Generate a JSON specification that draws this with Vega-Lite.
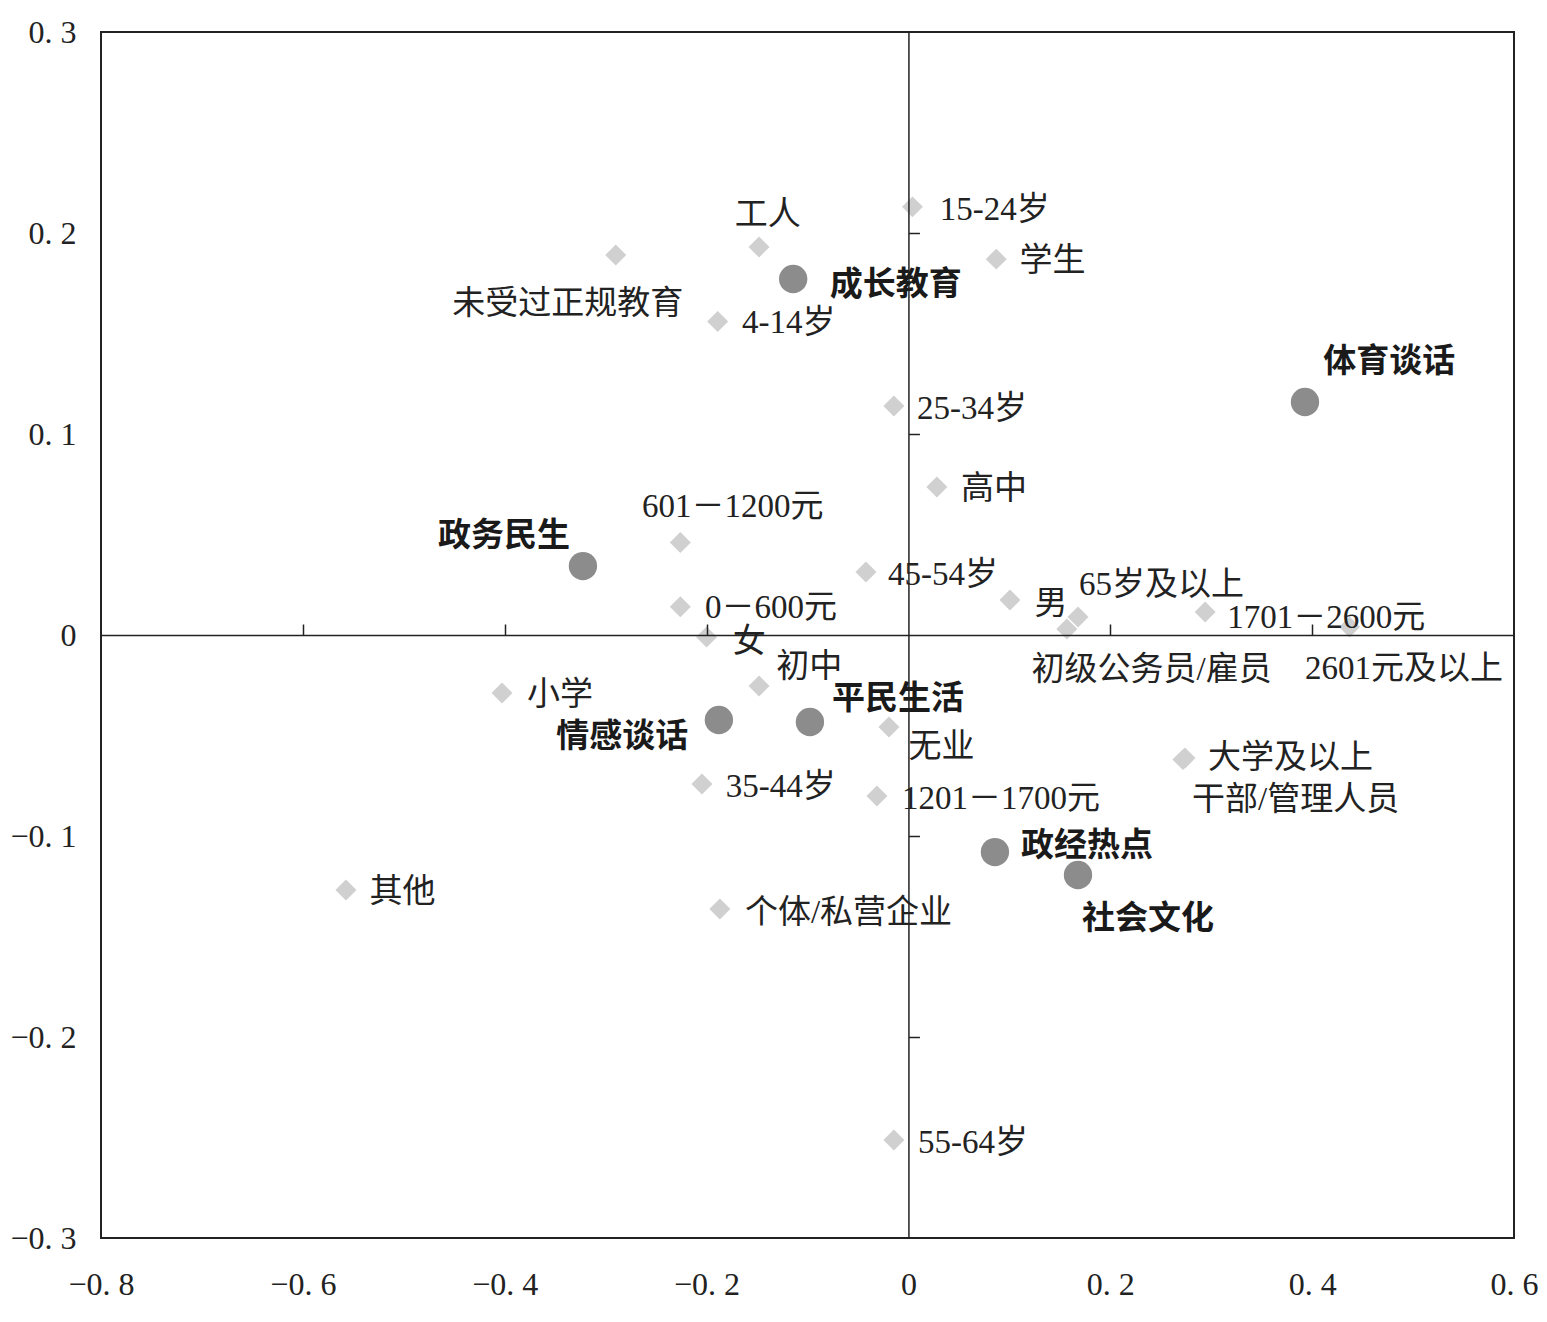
{
  "$schema": "https://vega.github.io/schema/vega-lite/v6.json",
  "width": 1413,
  "height": 1206,
  "autosize": {"type": "none"},
  "padding": {"left": 101, "top": 32, "right": 33, "bottom": 84},
  "background": "white",
  "config": {"view": {"stroke": "#222", "strokeWidth": 2}},
  "datasets": {
    "cats": [
      {"label": "15-24岁", "x": 0.004, "y": 0.213, "lx": 0.031, "ly": 0.2114},
      {"label": "工人", "x": -0.148, "y": 0.193, "lx": -0.172, "ly": 0.2092},
      {"label": "未受过正规教育", "x": -0.29, "y": 0.189, "lx": -0.452, "ly": 0.1647},
      {"label": "学生", "x": 0.087, "y": 0.187, "lx": 0.11, "ly": 0.186},
      {"label": "4-14岁", "x": -0.189, "y": 0.156, "lx": -0.165, "ly": 0.155},
      {"label": "25-34岁", "x": -0.0144, "y": 0.1139, "lx": 0.0084, "ly": 0.1124},
      {"label": "高中", "x": 0.0282, "y": 0.0736, "lx": 0.052, "ly": 0.0726},
      {"label": "601－1200元", "x": -0.226, "y": 0.046, "lx": -0.264, "ly": 0.0637},
      {"label": "45-54岁", "x": -0.0421, "y": 0.0313, "lx": -0.0203, "ly": 0.0299},
      {"label": "0－600元", "x": -0.226, "y": 0.014, "lx": -0.2016, "ly": 0.0134},
      {"label": "男", "x": 0.1006, "y": 0.0174, "lx": 0.125, "ly": 0.0154},
      {"label": "65岁及以上", "x": 0.168, "y": 0.009, "lx": 0.169, "ly": 0.025},
      {"label": "初级公务员/雇员", "x": 0.157, "y": 0.003, "lx": 0.122, "ly": -0.0174},
      {"label": "1701－2600元", "x": 0.294, "y": 0.0114, "lx": 0.316, "ly": 0.0085},
      {"label": "2601元及以上", "x": 0.437, "y": 0.004, "lx": 0.393, "ly": -0.017},
      {"label": "女", "x": -0.2, "y": -0.001, "lx": -0.174, "ly": -0.0035},
      {"label": "初中", "x": -0.148, "y": -0.0254, "lx": -0.131, "ly": -0.0159},
      {"label": "小学", "x": -0.4027, "y": -0.0289, "lx": -0.378, "ly": -0.0299},
      {"label": "无业", "x": -0.0193, "y": -0.0458, "lx": 0.0, "ly": -0.0557},
      {"label": "大学及以上", "x": 0.274, "y": -0.0612, "lx": 0.2968, "ly": -0.0612},
      {"label": "干部/管理人员", "x": 0.272, "y": -0.062, "lx": 0.281, "ly": -0.0821},
      {"label": "35-44岁", "x": -0.2046, "y": -0.0741, "lx": -0.181, "ly": -0.0756},
      {"label": "1201－1700元", "x": -0.0312, "y": -0.0801, "lx": -0.0064, "ly": -0.0816},
      {"label": "其他", "x": -0.5573, "y": -0.1269, "lx": -0.534, "ly": -0.1279},
      {"label": "个体/私营企业", "x": -0.1868, "y": -0.1363, "lx": -0.162, "ly": -0.1383},
      {"label": "55-64岁", "x": -0.0144, "y": -0.2512, "lx": 0.0094, "ly": -0.2527}
    ],
    "topics": [
      {"label": "成长教育", "x": -0.1142, "y": 0.1771, "lx": -0.078, "ly": 0.174},
      {"label": "体育谈话", "x": 0.3929, "y": 0.1159, "lx": 0.411, "ly": 0.136},
      {"label": "政务民生", "x": -0.3225, "y": 0.0343, "lx": -0.466, "ly": 0.0493},
      {"label": "情感谈话", "x": -0.1878, "y": -0.0423, "lx": -0.349, "ly": -0.0507},
      {"label": "平民生活", "x": -0.0976, "y": -0.0433, "lx": -0.0758, "ly": -0.0318},
      {"label": "政经热点", "x": 0.0857, "y": -0.108, "lx": 0.1115, "ly": -0.105},
      {"label": "社会文化", "x": 0.168, "y": -0.1194, "lx": 0.172, "ly": -0.1413}
    ]
  },
  "layer": [
    {
      "data": {"name": "cats"},
      "mark": {"type": "point", "shape": "diamond", "filled": true, "color": "#d0d0d0", "size": 440, "opacity": 1, "strokeWidth": 0},
      "encoding": {
        "x": {"field": "x", "type": "quantitative", "scale": {"domain": [-0.8, 0.6], "nice": false, "zero": false},
          "axis": {"orient": "bottom", "title": null, "values": [-0.8, -0.6, -0.4, -0.2, 0, 0.2, 0.4, 0.6], "ticks": false, "domain": false, "grid": false,
            "labelFont": "Liberation Serif", "labelFontSize": 32, "labelColor": "#222", "labelPadding": 31, "labelFlush": false, "labelOverlap": false,
            "labelExpr": "datum.value == 0 ? '0' : replace(format(datum.value, '.1f'), '.', '. ')"}},
        "y": {"field": "y", "type": "quantitative", "scale": {"domain": [-0.3, 0.3], "nice": false, "zero": false},
          "axis": {"orient": "left", "title": null, "values": [-0.3, -0.2, -0.1, 0, 0.1, 0.2, 0.3], "ticks": false, "domain": false, "grid": false,
            "labelFont": "Liberation Serif", "labelFontSize": 32, "labelColor": "#222", "labelPadding": 25, "labelFlush": false, "labelOverlap": false,
            "labelExpr": "datum.value == 0 ? '0' : replace(format(datum.value, '.1f'), '.', '. ')"}}
      }
    },
    {
      "data": {"name": "topics"},
      "mark": {"type": "circle", "color": "#8c8c8c", "size": 804, "opacity": 1},
      "encoding": {
        "x": {"field": "x", "type": "quantitative",
          "axis": {"orient": "top", "offset": -603, "title": null, "values": [-0.6, -0.4, -0.2, 0.2, 0.4], "labels": false, "ticks": true, "tickSize": 11, "tickColor": "#222", "tickWidth": 1.5,
            "domain": true, "domainColor": "#222", "domainWidth": 1.5, "grid": false, "zindex": 1}},
        "y": {"field": "y", "type": "quantitative",
          "axis": {"orient": "right", "offset": -605.57, "title": null, "values": [-0.2, -0.1, 0.1, 0.2], "labels": false, "ticks": true, "tickSize": 11, "tickColor": "#222", "tickWidth": 1.5,
            "domain": true, "domainColor": "#222", "domainWidth": 1.5, "grid": false, "zindex": 1}}
      }
    },
    {
      "data": {"name": "cats"},
      "mark": {"type": "text", "align": "left", "baseline": "middle", "font": "'Liberation Serif', 'Noto Sans CJK SC'", "fontSize": 33, "color": "#222"},
      "encoding": {
        "x": {"field": "lx", "type": "quantitative", "axis": null},
        "y": {"field": "ly", "type": "quantitative", "axis": null},
        "text": {"field": "label"}
      }
    },
    {
      "data": {"name": "topics"},
      "mark": {"type": "text", "align": "left", "baseline": "middle", "font": "Noto Sans CJK SC", "fontSize": 33, "fontWeight": "bold", "color": "#1a1a1a"},
      "encoding": {
        "x": {"field": "lx", "type": "quantitative", "axis": null},
        "y": {"field": "ly", "type": "quantitative", "axis": null},
        "text": {"field": "label"}
      }
    }
  ],
  "resolve": {"axis": {"x": "independent", "y": "independent"}}
}
